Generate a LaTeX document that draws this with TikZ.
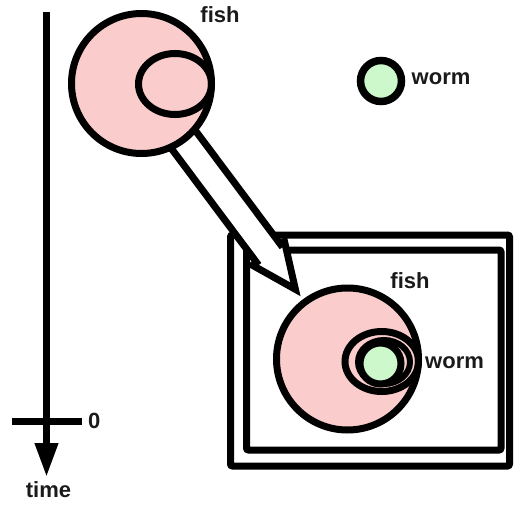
\documentclass[tikz,border=0pt]{standalone}
\usepackage{fontspec}
\setmainfont{Liberation Sans}
\usetikzlibrary{arrows.meta,shapes.geometric,calc}
\definecolor{FishPink}{RGB}{250,204,204}
\definecolor{WormGreen}{RGB}{204,248,204}
\definecolor{InkGray}{RGB}{26,26,26}
\tikzset{
  fishbody/.style={circle,draw=black,fill=FishPink,line width=7pt,inner sep=0pt},
  gut/.style={ellipse,draw=black,line width=7pt,inner sep=0pt},
  wormbody/.style={circle,draw=black,fill=WormGreen,line width=7.5pt,inner sep=0pt,
    minimum size=41pt},
  tag/.style={font=\fontsize{22}{24}\selectfont\bfseries,text=InkGray,inner sep=0pt},
  fatarrow/.style={draw=black,fill=white,line width=7pt,line join=miter},
  timeline/.style={line width=7pt,black},
  frame/.style={line width=7pt,rounded corners=2pt}
}
\begin{document}
\begin{tikzpicture}[x=1pt,y=-1pt]
  \useasboundingbox (0,0) rectangle (514,508);
  % time axis
  \draw[timeline,-{Triangle[length=34pt,width=22pt]}] (46.5,12) -- (46.5,477);
  \draw[timeline] (12,421) -- (82,421);
  \node[tag,anchor=base west] (zero) at (88,428) {0};
  \node[tag,anchor=base] (time) at (48.5,497) {time};
  % the box
  \draw[frame] (230.5,235) rectangle (509.5,466);
  \draw[frame] (246.5,250) rectangle (501,450);
  % big arrow, from fish to fish
  \coordinate (c1) at (141.5,83.5);
  \coordinate (c2) at (347.5,359);
  \coordinate (hb) at ($(c1)!212pt!(c2)$);
  \coordinate (tip) at ($(c1)!257pt!(c2)$);
  \filldraw[fatarrow] ($(c1)!15pt!90:(c2)$) -- ($(hb)!15pt!90:(tip)$)
    -- ($(hb)!20pt!90:(tip)$) -- (tip) -- ($(hb)!20pt!-90:(tip)$)
    -- ($(hb)!15pt!-90:(tip)$) -- ($(c1)!15pt!-90:(c2)$) -- cycle;
  % before
  \node[fishbody,minimum size=140pt] (fish1) at (c1) {};
  \node[gut,minimum width=73pt,minimum height=61pt] (gut1) at (175,84) {};
  \node[wormbody] (worm1) at (381,81) {};
  \node[tag,anchor=base] (fishtag1) at (220,23) {fish};
  \node[tag,anchor=base west] (wormtag1) at (411.5,85) {worm};
  % after
  \node[fishbody,minimum size=142pt] (fish2) at (c2) {};
  \node[gut,minimum width=73.5pt,minimum height=60pt] (gut2) at (381.75,361.5) {};
  \node[gut,line width=6pt,minimum width=52pt,minimum height=44pt] (gutin2) at (384,362) {};
  \node[wormbody,line width=7pt] (worm2) at (380.5,363.5) {};
  \node[tag,anchor=base] (fishtag2) at (410,288) {fish};
  \node[tag,anchor=base west] (wormtag2) at (425,368) {worm};
\end{tikzpicture}
\end{document}
